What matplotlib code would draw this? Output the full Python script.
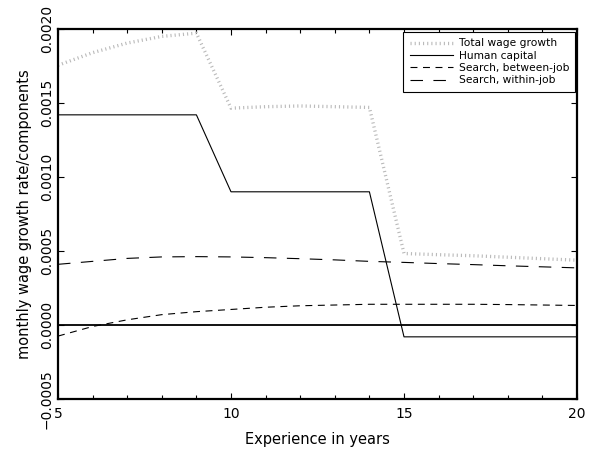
import matplotlib
matplotlib.use("Agg")
import matplotlib.pyplot as plt
from matplotlib.ticker import MultipleLocator, FixedLocator

plt.rcParams['font.family'] = ['DejaVu Sans']
plt.rcParams['lines.scale_dashes'] = False

years = [5, 6, 7, 8, 9, 10, 11, 12, 13, 14, 15, 16, 17, 18, 19, 20]
total_growth = [0.001755, 0.00184, 0.001905, 0.00195, 0.001972, 0.001465, 0.001475, 0.00148,
                0.001475, 0.00147, 0.000483, 0.000475, 0.000468, 0.000458, 0.000448, 0.000438]
human_capital = [0.00142, 0.00142, 0.00142, 0.00142, 0.00142, 0.0009, 0.0009, 0.0009,
                 0.0009, 0.0009, -0.00008, -0.00008, -0.00008, -0.00008, -0.00008, -0.00008]
between_job = [-0.000075, -0.00001, 0.000035, 0.00007, 0.00009, 0.000105, 0.00012, 0.00013,
               0.000135, 0.00014, 0.00014, 0.00014, 0.00014, 0.000138, 0.000135, 0.000132]
within_job = [0.00041, 0.00043, 0.00045, 0.00046, 0.000462, 0.00046, 0.000455, 0.000448,
              0.00044, 0.00043, 0.000423, 0.000415, 0.000408, 0.0004, 0.000393, 0.000386]
series_labels = ["Total wage growth", "Human capital", "Search, between-job", "Search, within-job"]
x_ticks = [5, 10, 15, 20]
y_ticks = [-0.0005, 0.0000, 0.0005, 0.0010, 0.0015, 0.0020]
y_tick_labels = ["-0.0005", "0.0000", "0.0005", "0.0010", "0.0015", "0.0020"]

fig = plt.figure(figsize=(6.02, 4.54), dpi=100)
ax = fig.add_axes([58/602, 1-399/454, 519/602, 370/454])

ax.axhline(0, color='black', lw=1.3, zorder=1)
ax.plot(years, total_growth, color='#bababa', lw=2.4, linestyle=(0, (0.8, 2.2)),
        dash_capstyle='butt', label=series_labels[0])
ax.plot(years, human_capital, color='black', lw=0.8, label=series_labels[1])
ax.plot(years, between_job, color='black', lw=0.8, linestyle=(0, (5.0, 4.0)), label=series_labels[2])
ax.plot(years, within_job, color='black', lw=0.8, linestyle=(0, (9.0, 7.5)), label=series_labels[3])

ax.set_xlim(5, 20)
ax.set_ylim(-0.0005, 0.0020)
ax.xaxis.set_major_locator(FixedLocator(x_ticks))
ax.xaxis.set_minor_locator(MultipleLocator(1))
ax.set_xticklabels([str(t) for t in x_ticks])
ax.set_yticks(y_ticks)
ax.set_yticklabels([s.replace('-', '\u2212') for s in y_tick_labels], rotation=90, va='center')

ax.tick_params(axis='both', which='both', direction='in', top=True, right=True, width=0.8)
ax.tick_params(axis='x', which='major', length=4.5, pad=6, labelsize=10)
ax.tick_params(axis='x', which='minor', length=3)
ax.tick_params(axis='y', which='major', length=4, pad=3, labelsize=10)
for s in ax.spines.values():
    s.set_linewidth(1.6)

ax.set_xlabel("Experience in years", fontsize=10.5, labelpad=8)
ax.set_ylabel("monthly wage growth rate/components", fontsize=10.5, labelpad=6)

leg = ax.legend(loc='upper right', bbox_to_anchor=(0.997, 0.992), borderaxespad=0,
                fontsize=7.7, frameon=True, fancybox=False, framealpha=1,
                handlelength=4.0, handletextpad=0.55, labelspacing=0.22, borderpad=0.6)
leg.get_frame().set_edgecolor('black')
leg.get_frame().set_linewidth(0.8)

fig.savefig("out.png", dpi=100)
